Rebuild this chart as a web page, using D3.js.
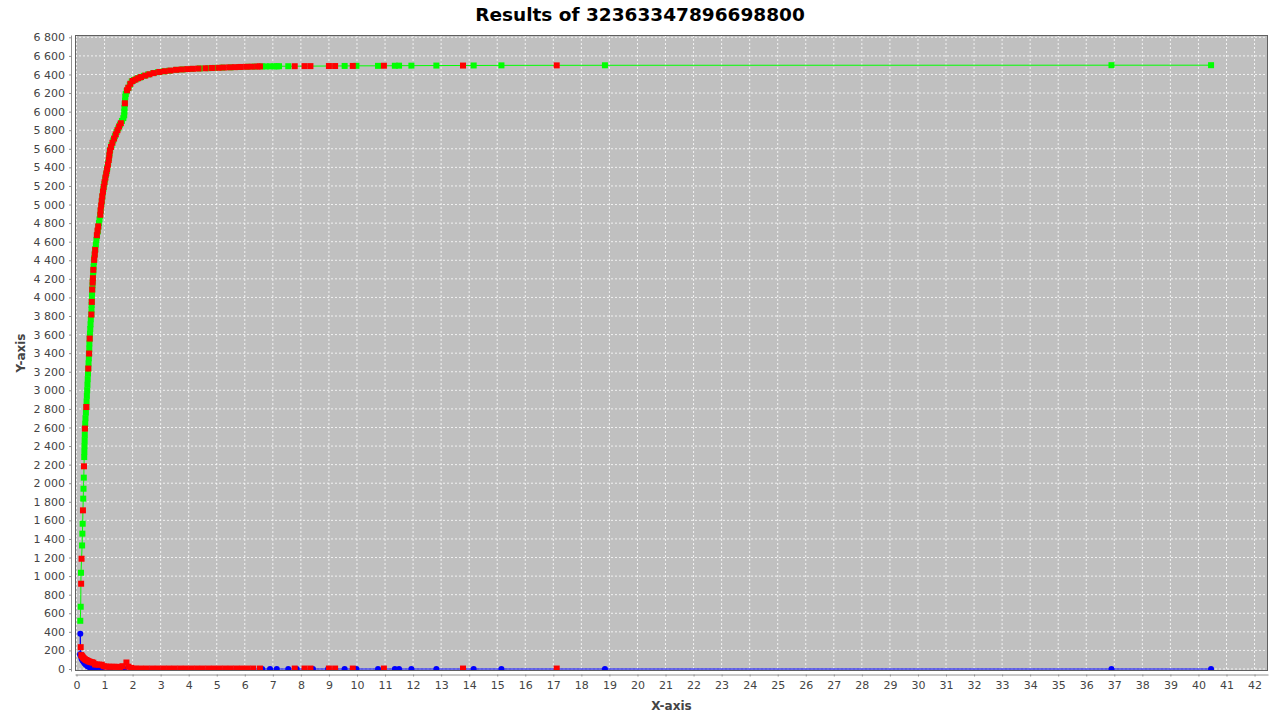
<!DOCTYPE html>
<html><head><meta charset="utf-8">
<script src="https://cdn.jsdelivr.net/npm/d3@7"></script>
<style>body{margin:0;background:#fff;} text{font-family:"DejaVu Sans",sans-serif;}</style>
</head><body>
<svg id="chart" width="1280" height="720"></svg>
<script>
const chartTitle = "Results of 32363347896698800";
const xLabel = "X-axis";
const yLabel = "Y-axis";
const xTicks = d3.range(0, 43, 1);
const yTicks = d3.range(0, 6801, 200);
const xDomain = [-0.0535, 42.48];
const yDomain = [-21.5, 6825];

// green series (squares + line)
const greenPoints = [
[0.135,519],[0.15,670],[0.16,1036],[0.2,1330],[0.21,1457],[0.22,1564],[0.24,1834],[0.25,1941],[0.26,2060],[0.275,2282],
[0.28,2340],[0.285,2400],[0.29,2460],[0.295,2520],[0.30,2588],[0.31,2640],[0.32,2700],[0.335,2760],[0.35,2820],[0.36,2880],
[0.37,2940],[0.38,3000],[0.39,3060],[0.40,3120],[0.41,3180],[0.42,3234],[0.43,3290],[0.44,3345],[0.45,3396],[0.455,3450],
[0.46,3505],[0.47,3557],[0.48,3610],[0.49,3660],[0.50,3710],[0.51,3765],[0.53,3816],[0.535,3870],[0.54,3920],[0.545,3952],
[0.55,4000],[0.555,4045],[0.56,4085],[0.57,4130],[0.58,4180],[0.59,4230],[0.60,4280],[0.61,4330],[0.62,4380],[0.63,4420],
[0.65,4470],[0.67,4520],[0.69,4570],[0.71,4620],[0.73,4660],[0.76,4710],[0.78,4760],[0.80,4800],[0.82,4840],[0.84,4880],
[0.86,4930],[0.88,4980],[0.90,5030],[0.92,5080],[0.94,5130],[0.96,5170],[0.99,5220],[1.02,5270],[1.05,5320],[1.08,5360],
[1.10,5400],[1.13,5450],[1.16,5500],[1.18,5550],[1.20,5590],[1.25,5640],[1.31,5690],[1.37,5735],[1.43,5780],[1.49,5820],
[1.55,5860],[1.62,5900],[1.67,5930],[1.70,5960],[1.705,6000],[1.71,6040],[1.72,6080],[1.73,6120],[1.74,6160],[1.755,6190],
[1.79,6220],[1.85,6255],[1.90,6290],[1.97,6325],[2.05,6340],[2.15,6355],[2.26,6368],[2.4,6385],[2.55,6400],[2.74,6415],
[2.9,6425],[3.1,6433],[3.3,6440],[3.57,6450],[3.8,6455],[4.1,6460],[4.4,6465],[4.7,6468],[4.94,6471],[5.2,6474],
[5.5,6477],[5.8,6480],[6.1,6483],[6.35,6485],[6.62,6487],[6.75,6487],[6.9,6488],[7.05,6488],[7.14,6488],[7.22,6489],
[7.55,6489],[9.56,6492],[9.98,6493],[10.75,6493],[11.35,6494],[11.5,6495],[11.94,6495],[12.83,6496],[14.16,6497],[15.15,6498],
[18.84,6499],[36.9,6500],[40.45,6500]
];

// blue series (circles + line)
const bluePoints = [
[0.125,160],[0.136,379],[0.15,140],[0.18,110],[0.21,95],[0.24,80],[0.28,62],[0.33,45],[0.39,30],[0.46,18],
[0.55,10],[0.7,5],[0.9,3],[1.2,2],[1.7,1],[2.5,0],[4.94,0],[6.62,0],[6.9,0],[7.14,0],
[7.55,0],[7.85,0],[8.43,0],[8.97,0],[9.56,0],[9.98,0],[10.75,0],[11.35,0],[11.5,0],[11.94,0],
[12.83,0],[14.16,0],[15.15,0],[18.84,0],[36.9,0],[40.45,0]
];

// red series (squares only) - upper curve
const redUpper = [
[0.165,918],[0.18,1187],[0.23,1708],[0.267,2182],[0.30,2588],[0.35,2820],[0.42,3234],[0.45,3396],[0.47,3557],[0.53,3816],
[0.545,3952],[0.56,4085],[0.575,4160],[0.585,4207],[0.60,4297],[0.63,4404],[0.65,4460],[0.665,4510],[0.725,4670],[0.75,4720],
[0.775,4765],[0.85,4890],[0.86,4940],[0.88,4990],[0.90,5040],[0.92,5090],[0.945,5140],[0.97,5190],[1.00,5240],[1.03,5290],
[1.06,5335],[1.09,5380],[1.12,5430],[1.15,5480],[1.17,5530],[1.19,5580],[1.23,5620],[1.28,5665],[1.34,5710],[1.40,5755],
[1.46,5800],[1.52,5840],[1.58,5875],[1.725,6090],[1.80,6230],[1.85,6258],[1.92,6300],[2.0,6330],[2.1,6345],[2.2,6360],
[2.3,6372],[2.45,6388],[2.6,6402],[2.75,6415],[2.95,6427],[3.15,6435],[3.35,6442],[3.55,6450],[3.75,6454],[3.95,6458],
[4.15,6461],[4.35,6464],[4.6,6467],[4.83,6470],[5.06,6472],[5.25,6475],[5.45,6477],[5.65,6479],[5.85,6481],[6.05,6483],
[6.25,6484],[6.45,6486],[6.54,6487],[7.78,6489],[8.13,6490],[8.34,6490],[9.0,6491],[9.22,6491],[9.85,6492],[10.96,6494],
[13.78,6496],[17.12,6498]
];

// red series - lower points
const redLower = [
[0.15,235],[0.17,150],[0.2,138],[0.23,125],[0.26,115],[0.3,105],[0.34,97],[0.38,92],[0.42,85],[0.46,80],
[0.5,75],[0.55,72],[0.6,68],[0.66,50],[0.72,48],[0.8,47],[0.9,46],[0.97,30],[1.05,26],[1.15,25],
[1.25,24],[1.35,24],[1.45,23],[1.55,22],[1.64,30],[1.78,70],[1.85,25],[1.95,12],[2.1,6],[2.3,5],
[2.5,5],[2.7,5],[2.9,5],[3.1,5],[3.3,5],[3.5,5],[3.7,5],[3.9,5],[4.1,5],[4.3,5],
[4.5,5],[4.7,5],[4.9,5],[5.1,5],[5.3,5],[5.5,5],[5.7,5],[5.9,5],[6.1,5],[6.3,5],
[6.54,5],[7.78,5],[8.13,5],[8.34,5],[9.0,5],[9.22,5],[9.85,5],[10.96,5],[13.78,5],[17.12,5]
];

const plot = {left: 75, right: 1268, top: 35, bottom: 671};
const svg = d3.select("#chart");
const x = d3.scaleLinear().domain(xDomain).range([plot.left, plot.right]);
const y = d3.scaleLinear().domain(yDomain).range([plot.bottom, plot.top]);
const loc = d3.formatLocale({decimal: ".", thousands: " ", grouping: [3], currency: ["", ""]});
const fmt = loc.format(",d");

svg.append("rect").attr("width",1280).attr("height",720).attr("fill","#fff");

// title
svg.append("text").attr("x",640).attr("y",21).attr("text-anchor","middle")
  .style("font-size","18.5px").style("font-weight","bold").attr("fill","#000").text(chartTitle);

// plot background
svg.append("rect").attr("x",plot.left).attr("y",plot.top)
  .attr("width",plot.right-plot.left).attr("height",plot.bottom-plot.top).attr("fill","#c0c0c0");

svg.append("defs").append("clipPath").attr("id","clip").append("rect")
  .attr("x",plot.left).attr("y",plot.top).attr("width",plot.right-plot.left).attr("height",plot.bottom-plot.top);

// grid
const grid = svg.append("g");
grid.selectAll("line.v").data(xTicks).join("line")
  .attr("x1",d=>x(d)).attr("x2",d=>x(d)).attr("y1",plot.top).attr("y2",plot.bottom)
  .attr("stroke","#fff").attr("stroke-width",0.8).attr("stroke-dasharray","2,2");
grid.selectAll("line.h").data(yTicks).join("line")
  .attr("y1",d=>y(d)).attr("y2",d=>y(d)).attr("x1",plot.left).attr("x2",plot.right)
  .attr("stroke","#fff").attr("stroke-width",0.8).attr("stroke-dasharray","2,2");

const g = svg.append("g").attr("clip-path","url(#clip)");
const line = d3.line().x(d=>x(d[0])).y(d=>y(d[1]));
// lines pass
g.append("path").datum(greenPoints).attr("d",line).attr("fill","none").attr("stroke","#00ff00").attr("stroke-width",1);
g.append("path").datum(bluePoints).attr("d",line).attr("fill","none").attr("stroke","#0000ff").attr("stroke-width",1);
// shapes pass
g.selectAll("rect.g").data(greenPoints).join("rect").attr("class","g")
  .attr("x",d=>x(d[0])-3).attr("y",d=>y(d[1])-3).attr("width",6).attr("height",6).attr("fill","#00ff00");
g.selectAll("circle.b").data(bluePoints).join("circle").attr("class","b")
  .attr("cx",d=>x(d[0])).attr("cy",d=>y(d[1])).attr("r",3).attr("fill","#0000ff");
g.selectAll("rect.r").data(redUpper.concat(redLower)).join("rect").attr("class","r")
  .attr("x",d=>x(d[0])-3).attr("y",d=>y(d[1])-3).attr("width",6).attr("height",6).attr("fill","#ff0000");

// outline
svg.append("rect").attr("x",plot.left+0.5).attr("y",plot.top+0.5)
  .attr("width",plot.right-plot.left-1).attr("height",plot.bottom-plot.top-1)
  .attr("fill","none").attr("stroke","#606060").attr("stroke-width",1);

// axes
const yAxis = svg.append("g").attr("transform","translate(71,0)")
  .call(d3.axisLeft(y).tickValues(yTicks).tickFormat(fmt).tickSize(2).tickSizeOuter(0).tickPadding(4));
const xAxis = svg.append("g").attr("transform","translate(0,674.5)")
  .call(d3.axisBottom(x).tickValues(xTicks).tickFormat(d3.format("d")).tickSize(2).tickSizeOuter(0).tickPadding(5));
[yAxis,xAxis].forEach(a=>{
  a.select(".domain").attr("stroke","#909090");
  a.selectAll(".tick line").attr("stroke","#909090");
  a.selectAll(".tick text").attr("fill","#444").style("font-size","11px").style("font-family","'DejaVu Sans',sans-serif");
});

svg.append("text").attr("x",(plot.left+plot.right)/2).attr("y",710).attr("text-anchor","middle")
  .style("font-size","12px").style("font-weight","bold").attr("fill","#444").text(xLabel);
svg.append("text").attr("transform",`translate(25,${(plot.top+plot.bottom)/2}) rotate(-90)`).attr("text-anchor","middle")
  .style("font-size","12px").style("font-weight","bold").attr("fill","#444").text(yLabel);
</script>
</body></html>
